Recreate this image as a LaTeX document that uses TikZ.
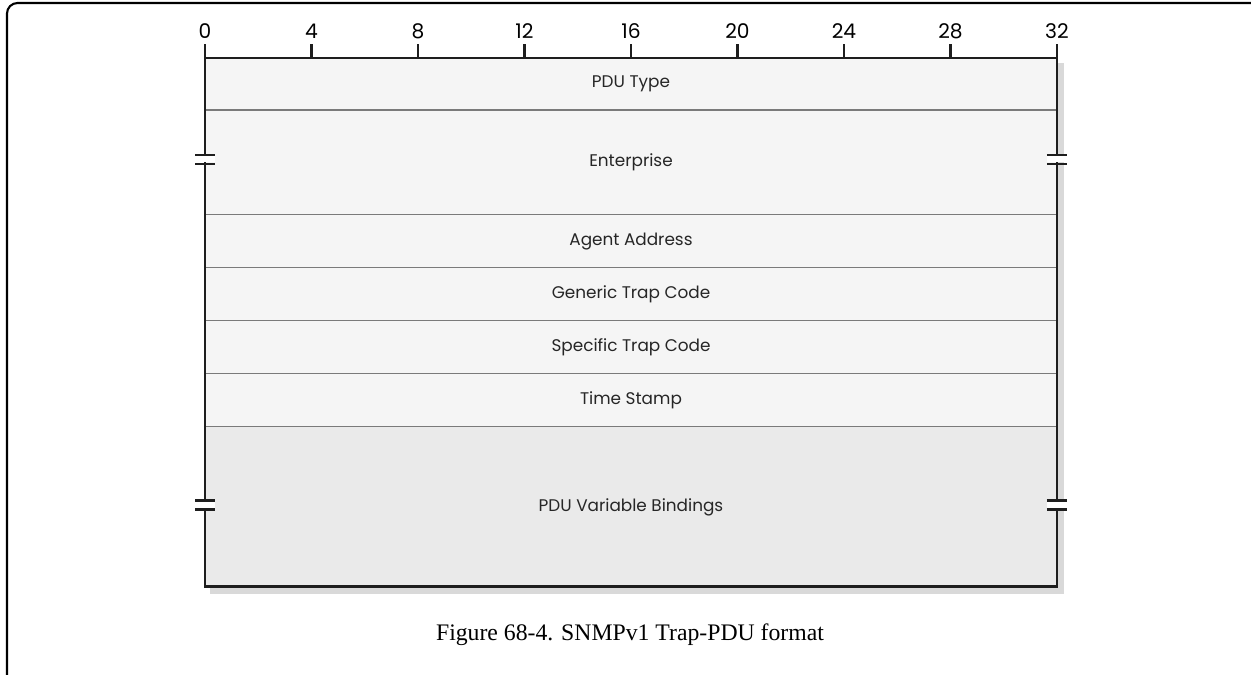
\documentclass[tikz,border=0pt]{standalone}
\usepackage{fontspec}
\setmainfont{Liberation Serif}
\newfontfamily\fieldfont{Poppins}
\usetikzlibrary{positioning,calc}
\definecolor{rowfill}{HTML}{F5F5F5}
\definecolor{varfill}{HTML}{EAEAEA}
\definecolor{rowline}{HTML}{7A7A7A}
\definecolor{framecol}{HTML}{1E1E1E}
\tikzset{field/.style={draw=rowline, fill=rowfill, line width=0.6pt,
  minimum width=17.04cm, inner sep=0pt, outer sep=0pt,
  font=\fieldfont\fontsize{9.6}{11}\selectfont, text=black!85},
  bitlbl/.style={font=\fieldfont\fontsize{11.5}{13}\selectfont, inner sep=0pt,
  anchor=base},
  brk/.style={line width=1.5pt, framecol}}

\begin{document}
\begin{tikzpicture}[x=0.02cm, y=-0.02cm]
  \useasboundingbox (0,0) rectangle (1251,675);
  % outer frame, cut at the right and bottom
  \begin{scope}
    \clip (0,0) rectangle (1251,675);
    \draw[line width=1.2pt, rounded corners=6pt] (7,3) rectangle (1275,690);
  \end{scope}
  % shadow
  \fill[black!15] (210,63) rectangle (1064,594);
  % fields
  \node[field, minimum height=1.04cm] (type) at (631,84) {PDU Type};
  \node[field, minimum height=2.1cm, below=0pt of type] (ent) {Enterprise};
  \node[field, minimum height=1.06cm, below=0pt of ent] (agent) {Agent Address};
  \node[field, minimum height=1.06cm, below=0pt of agent] (gen) {Generic Trap Code};
  \node[field, minimum height=1.06cm, below=0pt of gen] (spec) {Specific Trap Code};
  \node[field, minimum height=1.06cm, below=0pt of spec] (time) {Time Stamp};
  \node[field, fill=varfill, minimum height=3.2cm, below=0pt of time] (vars) {PDU Variable Bindings};
  \draw[framecol, line width=1.6pt] (type.north west) rectangle (vars.south east);
  % bit scale
  \foreach \b in {0,4,...,32} {
    \coordinate (t\b) at ($(type.north west)!\b/32!(type.north east)$);
    \draw[framecol, line width=1.3pt] (t\b) -- ++(0,-14);
    \node[bitlbl] (b\b) at ($(t\b)+(0,-20)$) {\b};
  }
  % breaks in the long fields
  \foreach \f/\dy in {ent/-3, vars/-2} {
    \foreach \s in {west, east} {
      \fill[white] ($(\f.\s)+(-10,\dy-3)$) rectangle ($(\f.\s)+(10,\dy+3)$);
      \draw[brk] ($(\f.\s)+(-10,\dy-4.5)$) -- ++(20,0);
      \draw[brk] ($(\f.\s)+(-10,\dy+4.5)$) -- ++(20,0);
    }
  }
  \node[font=\fontsize{13.5}{16}\selectfont] (cap) at (630,635) {Figure 68-4. SNMPv1 Trap-PDU format};
\end{tikzpicture}
\end{document}
